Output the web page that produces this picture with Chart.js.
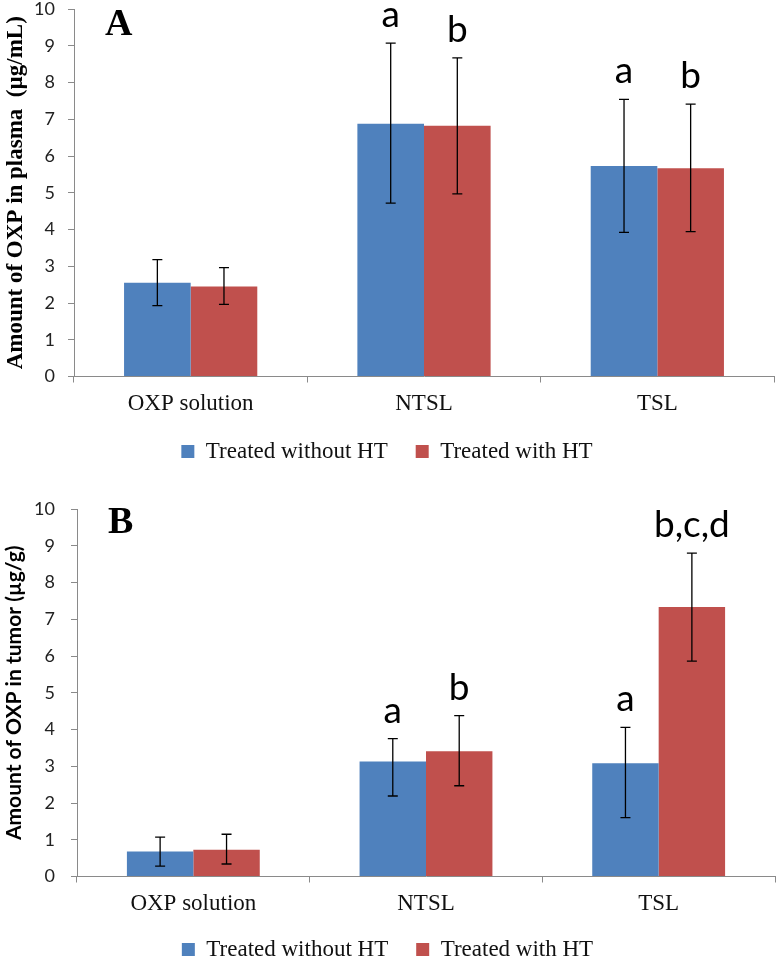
<!DOCTYPE html>
<html>
<head>
<meta charset="utf-8">
<script src="https://cdn.jsdelivr.net/npm/chart.js@4"></script>
<style>
  html, body { margin: 0; padding: 0; background: #fff; overflow: hidden; }
  body { position: relative; width: 776px; height: 957px; }
  canvas { display: block; position: absolute; left: 0; }
  #chart-plasma { top: 0; }
  #chart-tumor { top: 478px; }
</style>
</head>
<body>
<canvas id="chart-plasma" width="776" height="478"></canvas>
<canvas id="chart-tumor" width="776" height="500"></canvas>
<script>
// Datos
const categories = ['OXP solution', 'NTSL', 'TSL'];
const seriesNames = ['Treated without HT', 'Treated with HT'];
const seriesColors = ['#4F81BD', '#C0504D'];

// A: plasma (µg/mL)
const plasmaWithout = [2.55, 6.88, 5.73];
const plasmaWith = [2.45, 6.82, 5.67];
const plasmaWithoutHigh = [3.18, 9.07, 7.54];
const plasmaWithoutLow = [1.93, 4.72, 3.92];
const plasmaWithHigh = [2.96, 8.67, 7.41];
const plasmaWithLow = [1.96, 4.97, 3.94];
const plasmaLettersWithout = ['', 'a', 'a'];
const plasmaLettersWith = ['', 'b', 'b'];

// B: tumor (µg/g)
const tumorWithout = [0.68, 3.13, 3.08];
const tumorWith = [0.73, 3.41, 7.33];
const tumorWithoutHigh = [1.07, 3.75, 4.06];
const tumorWithoutLow = [0.28, 2.19, 1.60];
const tumorWithHigh = [1.15, 4.38, 8.80];
const tumorWithLow = [0.34, 2.47, 5.86];
const tumorLettersWithout = ['', 'a', 'a'];
const tumorLettersWith = ['', 'b', 'b,c,d'];

const yTicks = [0, 1, 2, 3, 4, 5, 6, 7, 8, 9, 10];

const axisColor = '#8a8a8a';
const serif = "'Liberation Serif', 'Times New Roman', serif";
const sans = "Lato, 'Open Sans', sans-serif";

// barras de error + letras de significancia + letra del panel
const extrasPlugin = {
    id: 'extras',
    afterDatasetsDraw(chart) {
        const ctx = chart.ctx;
        const y = chart.scales.y;
        const ex = chart.options.plugins.extras;
        ctx.save();
        chart.data.datasets.forEach((ds, i) => {
            const meta = chart.getDatasetMeta(i);
            meta.data.forEach((bar, j) => {
                const yHi = y.getPixelForValue(ds.errHigh[j]);
                const yLo = y.getPixelForValue(ds.errLow[j]);
                ctx.strokeStyle = '#000';
                ctx.lineWidth = 1.3;
                ctx.beginPath();
                ctx.moveTo(bar.x, yHi);
                ctx.lineTo(bar.x, yLo);
                ctx.moveTo(bar.x - 5, yHi);
                ctx.lineTo(bar.x + 5, yHi);
                ctx.moveTo(bar.x - 5, yLo);
                ctx.lineTo(bar.x + 5, yLo);
                ctx.stroke();

                const letra = ds.letters[j];
                if (letra) {
                    ctx.fillStyle = '#000';
                    ctx.font = `37px ${sans}`;
                    ctx.textAlign = 'center';
                    ctx.textBaseline = 'alphabetic';
                    ctx.fillText(letra, bar.x, yHi - 16);
                }
            });
        });
        const area = chart.chartArea;
        ctx.fillStyle = '#000';
        ctx.font = `bold 38px ${serif}`;
        ctx.textAlign = 'left';
        ctx.textBaseline = 'alphabetic';
        ctx.fillText(ex.panel, area.left + 31, area.top + ex.panelDy);
        ctx.restore();
    }
};

function crearGrafico(id, cfg) {
    const ctx = document.getElementById(id).getContext('2d');
    return new Chart(ctx, {
        type: 'bar',
        data: {
            labels: categories,
            datasets: cfg.series.map((s, i) => ({
                label: seriesNames[i],
                data: s.values,
                errHigh: s.high,
                errLow: s.low,
                letters: s.letters,
                backgroundColor: seriesColors[i],
                borderWidth: 0,
                categoryPercentage: 0.571,
                barPercentage: 1
            }))
        },
        options: {
            responsive: false,
            animation: false,
            layout: { padding: cfg.padding },
            scales: {
                x: {
                    offset: true,
                    grid: {
                        offset: true,
                        drawOnChartArea: false,
                        drawTicks: true,
                        tickLength: 6,
                        color: axisColor
                    },
                    border: { display: true, color: axisColor, width: 1 },
                    ticks: {
                        color: '#111',
                        font: { family: serif, size: 23 },
                        padding: 8,
                        maxRotation: 0
                    },
                    afterFit: scale => { scale.height = cfg.xHeight; }
                },
                y: {
                    min: 0,
                    max: 10,
                    afterBuildTicks: scale => { scale.ticks = yTicks.map(v => ({ value: v })); },
                    grid: {
                        drawOnChartArea: false,
                        drawTicks: true,
                        tickLength: 6,
                        color: axisColor
                    },
                    border: { display: true, color: axisColor, width: 1 },
                    ticks: {
                        color: '#222',
                        font: { family: sans, size: 18 },
                        padding: cfg.tickPad
                    },
                    title: {
                        display: true,
                        text: cfg.yTitle,
                        color: '#000',
                        font: cfg.yTitleFont,
                        padding: { top: 2, bottom: 0 }
                    },
                    afterFit: scale => {
                        scale.width = cfg.yWidth;
                        scale.paddingTop = 0;
                        scale.paddingBottom = 0;
                    }
                }
            },
            plugins: {
                legend: {
                    position: 'bottom',
                    labels: {
                        color: '#111',
                        font: { family: serif, size: 23 },
                        boxWidth: 13,
                        boxHeight: 13,
                        padding: 28
                    }
                },
                tooltip: { enabled: false },
                extras: { panel: cfg.panel, panelDy: cfg.panelDy }
            }
        },
        plugins: [extrasPlugin]
    });
}

crearGrafico('chart-plasma', {
    panel: 'A',
    panelDy: 26,
    yTitle: 'Amount of OXP in plasma  (µg/mL)',
    yTitleFont: { family: serif, weight: 'bold', size: 23 },
    yWidth: 74,
    xHeight: 35.5,
    tickPad: 13,
    padding: { top: 9, right: 2, left: 0, bottom: 5 },
    series: [
        { values: plasmaWithout, high: plasmaWithoutHigh, low: plasmaWithoutLow, letters: plasmaLettersWithout },
        { values: plasmaWith, high: plasmaWithHigh, low: plasmaWithLow, letters: plasmaLettersWith }
    ]
});

crearGrafico('chart-tumor', {
    panel: 'B',
    panelDy: 24,
    yTitle: 'Amount of OXP in tumor (µg/g)',
    yTitleFont: { family: sans, weight: 'bold', size: 21 },
    yWidth: 77,
    xHeight: 33.5,
    tickPad: 16,
    padding: { top: 31, right: 1, left: 0, bottom: 7 },
    series: [
        { values: tumorWithout, high: tumorWithoutHigh, low: tumorWithoutLow, letters: tumorLettersWithout },
        { values: tumorWith, high: tumorWithHigh, low: tumorWithLow, letters: tumorLettersWith }
    ]
});
</script>
</body>
</html>
